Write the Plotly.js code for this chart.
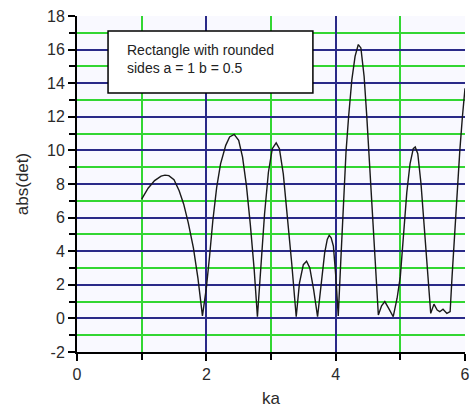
<!DOCTYPE html>
<html>
<head>
<meta charset="utf-8">
<script src="https://cdn.plot.ly/plotly-3.0.1.min.js"></script>
<style>html,body{margin:0;padding:0;background:#fff;}#chart{width:475px;height:413px;}</style>
</head>
<body>
<div id="chart"></div>
<script>
// ka values (x) and abs(det) values (y)
var ka = [1.00,1.10,1.20,1.30,1.36,1.42,1.50,1.58,1.65,1.72,1.80,1.87,1.94,
  2.00,2.05,2.10,2.16,2.22,2.30,2.36,2.43,2.50,2.56,2.62,2.68,2.74,2.79,
  2.84,2.90,2.96,3.02,3.08,3.13,3.19,3.25,3.32,3.39,
  3.44,3.50,3.55,3.60,3.66,3.72,
  3.78,3.83,3.87,3.90,3.93,3.965,4.00,4.04,
  4.08,4.12,4.16,4.20,4.25,4.30,4.35,4.39,4.44,4.48,4.53,4.58,4.62,4.66,
  4.71,4.76,4.82,4.89,4.95,
  5.00,5.05,5.10,5.15,5.20,5.23,5.27,5.32,5.36,5.40,5.44,5.47,
  5.52,5.57,5.61,5.66,5.72,5.77,
  5.80,5.84,5.88,5.92,5.96,6.00];
var absDet = [7.1,7.75,8.2,8.47,8.53,8.5,8.25,7.6,6.8,5.7,4.2,2.4,0.15,
  1.8,3.7,5.8,7.8,9.2,10.3,10.8,10.95,10.6,9.6,7.9,5.6,2.9,0.1,
  3.0,6.2,8.7,10.1,10.45,10.1,8.6,6.3,3.3,0.1,
  2.1,3.2,3.4,3.0,1.7,0.1,
  2.1,3.9,4.7,4.95,4.8,4.3,2.6,0.15,
  3.5,7.2,9.9,12.0,14.2,15.6,16.3,16.1,14.4,12.1,8.6,5.3,2.7,0.2,
  0.75,1.0,0.6,0.1,1.2,
  2.5,5.0,7.5,9.2,10.1,10.2,9.8,8.0,6.0,3.8,1.5,0.3,
  0.85,0.5,0.4,0.55,0.3,0.4,
  2.5,5.2,7.8,10.0,12.0,13.7];

// tick values and labels
var xTickVals = [0, 2, 4, 6];
var xTickText = ['0', '2', '4', '6'];
var yTickVals = [-2, 0, 2, 4, 6, 8, 10, 12, 14, 16, 18];
var yTickText = ['-2', '0', '2', '4', '6', '8', '10', '12', '14', '16', '18'];

var xTitle = 'ka';
var yTitle = 'abs(det)';
var boxText = 'Rectangle with rounded<br>sides a = 1 b = 0.5';

var font = 'Liberation Sans, Arial, sans-serif';

var trace = {
  x: ka, y: absDet, type: 'scatter', mode: 'lines',
  line: {color: '#1a1a1a', width: 1.4},
  hoverinfo: 'skip', showlegend: false
};

var layout = {
  width: 475, height: 413,
  margin: {l: 77, r: 10, t: 16, b: 61, pad: 0},
  paper_bgcolor: '#ffffff',
  plot_bgcolor: '#f9f9ff',
  font: {family: font, color: '#2a2a2a', size: 16},
  showlegend: false,
  xaxis: {
    range: [0, 6], tickmode: 'array', tickvals: xTickVals, ticktext: xTickText,
    showline: true, linecolor: '#000', linewidth: 2,
    ticks: 'outside', ticklen: 7, tickwidth: 2, tickcolor: '#000',
    showgrid: true, gridcolor: '#2a2a88', gridwidth: 2,
    zeroline: false,
    minor: {tickmode: 'linear', tick0: 0, dtick: 1, ticks: 'outside', ticklen: 6,
            tickwidth: 2, tickcolor: '#000', showgrid: true, gridcolor: '#33d633', gridwidth: 2},
    tickfont: {size: 16, color: '#2a2a2a'},
    title: {text: xTitle, font: {size: 17, color: '#2a2a2a'}, standoff: 10},
    automargin: false, fixedrange: true
  },
  yaxis: {
    range: [-2, 18], tickmode: 'array', tickvals: yTickVals, ticktext: yTickText,
    showline: true, linecolor: '#000', linewidth: 2,
    ticks: 'outside', ticklen: 7, tickwidth: 2, tickcolor: '#000',
    showgrid: true, gridcolor: '#2a2a88', gridwidth: 2,
    zeroline: false,
    minor: {tickmode: 'linear', tick0: 1, dtick: 2, ticks: 'outside', ticklen: 6,
            tickwidth: 2, tickcolor: '#000', showgrid: true, gridcolor: '#33d633', gridwidth: 2},
    tickfont: {size: 16, color: '#2a2a2a'},
    title: {text: yTitle, font: {size: 17, color: '#2a2a2a'}, standoff: 14},
    automargin: false, fixedrange: true
  },
  shapes: [{
    type: 'rect', xref: 'paper', yref: 'paper', layer: 'above',
    x0: 0.080, x1: 0.608, y0: 0.771, y1: 0.955,
    line: {color: '#000', width: 1.5}, fillcolor: '#ffffff'
  }],
  annotations: [{
    xref: 'paper', yref: 'paper', x: 0.124, y: 0.8735,
    xanchor: 'left', yanchor: 'middle', align: 'left',
    text: boxText, showarrow: false,
    font: {family: font, size: 14, color: '#222'}
  }]
};

Plotly.newPlot('chart', [trace], layout, {displayModeBar: false, staticPlot: true});
</script>
</body>
</html>
